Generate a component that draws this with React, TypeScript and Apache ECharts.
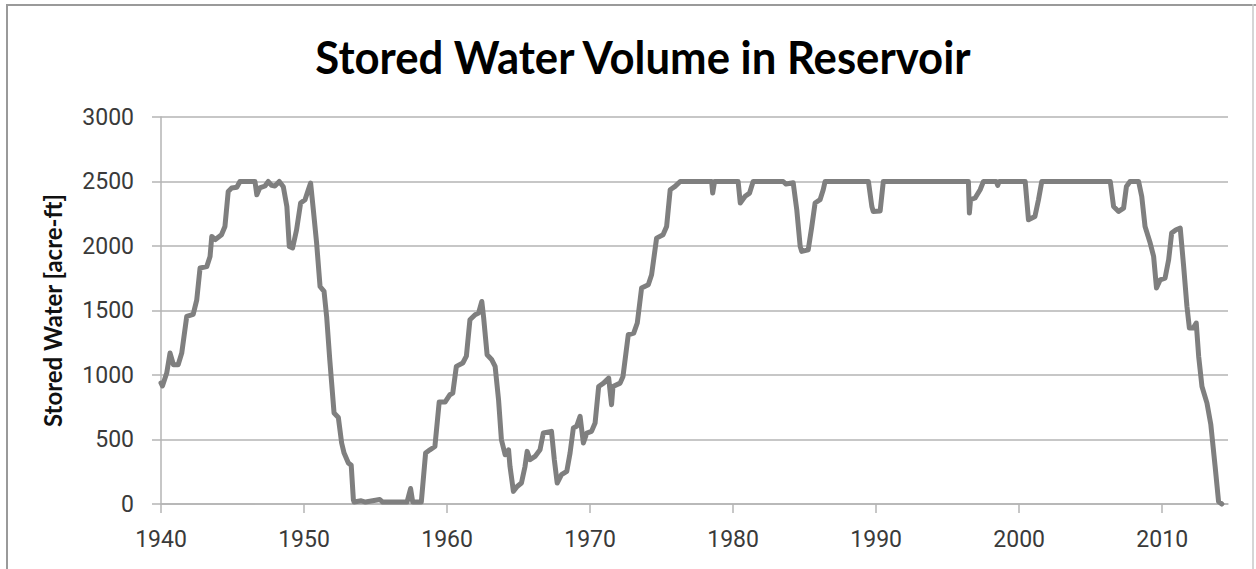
import React, { useEffect, useRef } from "react";
import * as echarts from "echarts";

const titleText = "Stored Water Volume in Reservoir";
const yAxisTitle = "Stored Water [acre-ft]";
const xTicks = [1940, 1950, 1960, 1970, 1980, 1990, 2000, 2010];
const yTicks = [0, 500, 1000, 1500, 2000, 2500, 3000];

const years = [
  1940.0, 1940.1, 1940.4, 1940.63, 1940.87, 1941.2, 1941.45, 1941.8, 1942.25, 1942.5,
  1942.73, 1943.2, 1943.43, 1943.55, 1943.8, 1944.23, 1944.47, 1944.7, 1944.94, 1945.3,
  1945.52, 1946.57, 1946.7, 1946.9, 1947.27, 1947.5, 1947.73, 1947.96, 1948.27, 1948.55,
  1948.8, 1948.97, 1949.2, 1949.48, 1949.76, 1950.07, 1950.3, 1950.46, 1950.65, 1950.88,
  1951.12, 1951.4, 1951.58, 1951.8, 1952.1, 1952.4, 1952.63, 1952.8, 1953.1, 1953.3,
  1953.45, 1953.5, 1954.0, 1954.3, 1955.3, 1955.5, 1957.2, 1957.45, 1957.6, 1958.2,
  1958.5, 1958.8, 1959.15, 1959.45, 1959.86, 1960.2, 1960.4, 1960.65, 1961.1, 1961.35,
  1961.6, 1961.96, 1962.2, 1962.43, 1962.55, 1962.8, 1963.13, 1963.36, 1963.6, 1963.8,
  1964.06, 1964.3, 1964.4, 1964.64, 1964.9, 1965.2, 1965.45, 1965.6, 1965.8, 1966.15,
  1966.5, 1966.73, 1967.3, 1967.5, 1967.7, 1968.0, 1968.37, 1968.6, 1968.83, 1969.06,
  1969.3, 1969.53, 1969.77, 1970.1, 1970.35, 1970.6, 1970.94, 1971.3, 1971.5, 1971.6,
  1972.1, 1972.3, 1972.67, 1973.05, 1973.3, 1973.6, 1974.07, 1974.3, 1974.65, 1975.1,
  1975.35, 1975.6, 1975.94, 1976.3, 1978.5, 1978.57, 1978.7, 1980.35, 1980.5, 1980.84,
  1981.15, 1981.4, 1983.5, 1983.7, 1984.2, 1984.45, 1984.69, 1984.8, 1985.25, 1985.5,
  1985.73, 1986.08, 1986.3, 1986.43, 1989.46, 1989.7, 1989.8, 1990.28, 1990.5, 1996.45,
  1996.52, 1996.6, 1996.92, 1997.27, 1997.5, 1998.4, 1998.5, 1998.6, 2000.42, 2000.65,
  2001.1, 2001.35, 2001.58, 2006.37, 2006.6, 2006.95, 2007.3, 2007.5, 2007.75, 2008.35,
  2008.57, 2008.8, 2009.16, 2009.4, 2009.6, 2009.86, 2010.2, 2010.45, 2010.66, 2010.97,
  2011.26, 2011.5, 2011.73, 2011.9, 2012.17, 2012.38, 2012.55, 2012.78, 2013.13, 2013.4,
  2013.7, 2013.94, 2014.17,
];

const storedWater = [
  938, 915, 1015, 1170, 1080, 1080, 1170, 1454, 1470, 1583,
  1829, 1840, 1919, 2074, 2050, 2087, 2151, 2423, 2449, 2455,
  2500, 2500, 2397, 2450, 2465, 2500, 2470, 2465, 2500, 2460,
  2306, 1996, 1985, 2126, 2333, 2359, 2436, 2488, 2281, 2023,
  1686, 1648, 1454, 1118, 705, 670, 473, 395, 318, 300,
  33, 15, 25, 15, 35, 15, 15, 120, 15, 15,
  395, 420, 446, 790, 790, 847, 860, 1067, 1093, 1146,
  1428, 1467, 1480, 1570, 1454, 1157, 1118, 1067, 808, 498,
  382, 420, 291, 98, 136, 163, 291, 408, 343, 369,
  420, 550, 563, 343, 163, 227, 253, 395, 589, 602,
  679, 473, 550, 563, 628, 911, 937, 976, 770, 911,
  937, 989, 1312, 1325, 1403, 1674, 1700, 1777, 2061, 2087,
  2151, 2436, 2462, 2500, 2500, 2410, 2500, 2500, 2333, 2385,
  2410, 2500, 2500, 2480, 2490, 2281, 1996, 1958, 1970, 2151,
  2333, 2359, 2436, 2500, 2500, 2306, 2268, 2272, 2500, 2500,
  2255, 2359, 2372, 2436, 2500, 2500, 2470, 2500, 2500, 2203,
  2229, 2359, 2500, 2500, 2306, 2268, 2294, 2462, 2500, 2500,
  2384, 2151, 2023, 1919, 1674, 1738, 1751, 1893, 2100, 2126,
  2139, 1841, 1531, 1364, 1364, 1403, 1144, 911, 782, 615,
  291, 20, 0,
];

export default function App() {
  const ref = useRef<HTMLDivElement>(null);
  useEffect(() => {
    if (!ref.current) return;
    const chart = echarts.init(ref.current, undefined, { renderer: "svg" });
    const data = years.map((y, i) => [y, storedWater[i]]);
    const gridColor = "#b4b4b4";
    chart.setOption({
      animation: false,
      backgroundColor: "#ffffff",
      grid: { left: 161, right: 28, top: 117, bottom: 65, containLabel: false },
      xAxis: {
        type: "value",
        min: 1940,
        max: 2014.6,
        interval: 10,
        axisLine: { show: true, onZero: false, lineStyle: { color: gridColor, width: 1.5 } },
        axisTick: { show: true, length: 9, lineStyle: { color: gridColor, width: 1.5 }, customValues: xTicks },
        axisLabel: {
          margin: 24,
          color: "#3a3a3a",
          fontFamily: "Roboto",
          fontSize: 23,
          customValues: xTicks,
          formatter: (v: number) => String(Math.round(v)),
        },
        splitLine: { show: false },
      },
      yAxis: {
        type: "value",
        min: 0,
        max: 3000,
        interval: 500,
        name: yAxisTitle,
        nameLocation: "middle",
        nameRotate: 90,
        nameGap: 97,
        nameTextStyle: { fontFamily: "Lato", fontWeight: "bold", fontSize: 24, color: "#111" },
        axisLine: { show: true, lineStyle: { color: gridColor, width: 1.5 } },
        axisTick: { show: true, length: 9, lineStyle: { color: gridColor, width: 1.5 } },
        axisLabel: {
          margin: 27,
          color: "#3a3a3a",
          fontFamily: "Roboto",
          fontSize: 23,
          customValues: yTicks,
          formatter: (v: number) => String(v),
        },
        splitLine: { show: true, lineStyle: { color: gridColor, width: 1.5 } },
      },
      series: [
        {
          type: "line",
          data,
          showSymbol: false,
          symbol: "none",
          lineStyle: { color: "#7f7f7f", width: 5, join: "round", cap: "round" },
          clip: false,
        },
      ],
      graphic: [
        {
          type: "text",
          x: 643,
          y: 57,
          scaleX: 0.95,
          style: {
            text: titleText,
            font: "bold 46px Lato",
            fill: "#000",
            textAlign: "center",
            textVerticalAlign: "middle",
          },
        },
        { type: "line", shape: { x1: 6, y1: 5, x2: 1256, y2: 5 }, style: { stroke: "#9a9a9a", lineWidth: 2 } },
        { type: "line", shape: { x1: 7, y1: 4, x2: 7, y2: 569 }, style: { stroke: "#9a9a9a", lineWidth: 2 } },
        { type: "line", shape: { x1: 1253, y1: 4, x2: 1253, y2: 569 }, style: { stroke: "#c8c8c8", lineWidth: 1.5 } },
      ],
    });
    return () => chart.dispose();
  }, []);
  return (
    <div
      ref={ref}
      style={{ position: "fixed", left: 0, top: 0, width: 1256, height: 569 }}
    />
  );
}
